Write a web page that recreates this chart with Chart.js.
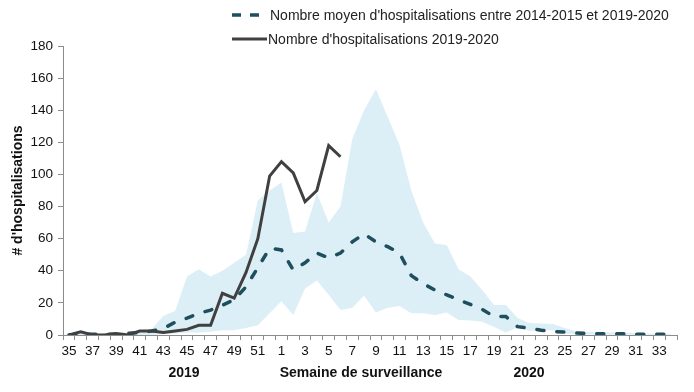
<!DOCTYPE html>
<html>
<head>
<meta charset="utf-8">
<script src="https://cdn.jsdelivr.net/npm/chart.js@4.4.0/dist/chart.umd.min.js"></script>
<style>
html,body{margin:0;padding:0;background:#fff;}
#wrap{position:relative;width:694px;height:392px;overflow:hidden;}
#c{position:absolute;left:0;top:0;}
#legend{position:absolute;left:232px;top:3px;font:14px "Liberation Sans",Arial,sans-serif;color:#222;}
.item{display:flex;align-items:center;height:24px;white-space:nowrap;}
.item svg{flex:none;}
</style>
</head>
<body>
<div id="wrap">
<canvas id="c" width="694" height="392"></canvas>
<div id="legend">
  <div class="item"><svg width="38" height="6"><line x1="0" y1="3" x2="30" y2="3" stroke="#1F4E5E" stroke-width="3.5" stroke-dasharray="9,9"/></svg><span>Nombre moyen d'hospitalisations entre 2014-2015 et 2019-2020</span></div>
  <div class="item"><svg width="36" height="6"><line x1="0" y1="3" x2="35" y2="3" stroke="#404040" stroke-width="3"/></svg><span>Nombre d'hospitalisations 2019-2020</span></div>
</div>
</div>
<script>
// Weeks of surveillance (2019: 35-52, 2020: 1-34)
const weeks = ['35','36','37','38','39','40','41','42','43','44','45','46','47','48','49','50','51','52',
  '1','2','3','4','5','6','7','8','9','10','11','12','13','14','15','16','17','18','19','20',
  '21','22','23','24','25','26','27','28','29','30','31','32','33','34'];

// Hospitalisations 2019-2020 (data up to week 6)
const hosp2019 = [0,2,0,0,1,0,2.5,2.5,1.5,2.5,3.5,6,6,26,23,39,60,99,
  108,101,83,90,118,111,
  null,null,null,null,null,null,null,null,null,null,null,null,null,null,
  null,null,null,null,null,null,null,null,null,null,null,null,null,null];

// Mean hospitalisations 2014-2015 to 2019-2020
const meanHosp = [0,0.5,0.5,0.5,0.5,1,1.5,2.5,4,8,10.5,13.5,15.5,18.5,22,30,42,54,
  53,40.5,45,51,48,51,58,63,58,55,51,37,32,28,25,22,19,16,11.5,11.5,
  5.2,4.2,3,2.2,1.8,1.2,0.9,0.8,0.8,0.7,0.5,0.5,0.5,0.5];

// Min / max band
const minHosp = [0,0,0,0,0,0,0,0,0.5,1,1.5,1.5,2,3,3,4.4,6,13.5,
  21,12.5,29,34,25,15.5,17,24.5,14,17,18,13.5,13.5,12.5,14,9.4,9,8.3,5,1.5,
  4.7,2.5,3,3,1,0.5,0.3,0.3,0.2,0.2,0.2,0.2,0.2,0.2];
const maxHosp = [0.5,1,1,1,1.5,1.5,2,3.5,12,15,36.5,41,36.5,40,45,50,84,90,
  95,63.5,64.5,88.5,70,80,122,140,153,136,118.5,90,70,57,56,41,36.5,28,18.7,18.7,
  10.6,7.5,7.2,6.9,4.4,2.2,2,2,1.5,1.5,1.2,1,1,0.8];

// Y ticks
const yTicks = [0,20,40,60,80,100,120,140,160,180];

const FONT = '"Liberation Sans", Arial, sans-serif';
const AXIS = '#8c8c8c';

const bottomText = {
  id: 'bottomText',
  afterDraw(chart) {
    const ctx = chart.ctx;
    ctx.save();
    ctx.fillStyle = '#111';
    ctx.font = 'bold 14px ' + FONT;
    ctx.textAlign = 'center';
    ctx.textBaseline = 'middle';
    ctx.fillText('2019', 184, 373);
    ctx.fillText('Semaine de surveillance', 361, 373);
    ctx.fillText('2020', 529, 373);
    ctx.restore();
  }
};

new Chart(document.getElementById('c'), {
  type: 'line',
  data: {
    labels: weeks,
    datasets: [
      { label: 'min', data: minHosp, borderWidth: 0, borderColor: 'rgba(0,0,0,0)', pointRadius: 0, fill: false, order: 4 },
      { label: 'max', data: maxHosp, borderWidth: 0, borderColor: 'rgba(0,0,0,0)', pointRadius: 0,
        fill: '-1', backgroundColor: '#DDEFF6', order: 3 },
      { label: "Nombre moyen d'hospitalisations entre 2014-2015 et 2019-2020", data: meanHosp,
        borderColor: '#1F4E5E', borderWidth: 3.5, borderDash: [7, 13], borderCapStyle: 'round',
        pointRadius: 0, fill: false, order: 2 },
      { label: "Nombre d'hospitalisations 2019-2020", data: hosp2019,
        borderColor: '#404040', borderWidth: 3, pointRadius: 0, fill: false, order: 1, spanGaps: false }
    ]
  },
  options: {
    responsive: false,
    animation: false,
    events: [],
    elements: { line: { tension: 0 } },
    layout: { padding: { top: 46, right: 17, left: 0, bottom: 0 } },
    plugins: { legend: { display: false }, tooltip: { enabled: false } },
    scales: {
      x: {
        type: 'category',
        offset: true,
        grid: { display: true, drawOnChartArea: false, drawTicks: true, tickLength: 5, offset: true, color: AXIS },
        border: { display: true, color: AXIS, width: 1 },
        ticks: {
          autoSkip: false, maxRotation: 0, minRotation: 0, padding: 3,
          color: '#111', font: { family: FONT, size: 13.5 },
          callback: function(v, i) { return i % 2 === 0 ? this.getLabelForValue(v) : ''; }
        },
        afterFit: (s) => { s.height = 57; }
      },
      y: {
        min: 0, max: 180,
        afterBuildTicks: (s) => { s.ticks = yTicks.map(v => ({ value: v })); },
        grid: { display: true, drawOnChartArea: false, drawTicks: true, tickLength: 5, color: AXIS },
        border: { display: true, color: AXIS, width: 1 },
        ticks: { padding: 5, color: '#111', font: { family: FONT, size: 13.5 } },
        title: { display: true, text: "# d'hospitalisations", color: '#111',
                 font: { family: FONT, size: 14, weight: 'bold' }, padding: { top: 10, bottom: 0 } },
        afterFit: (s) => { s.width = 63; }
      }
    }
  },
  plugins: [bottomText]
});
</script>
</body>
</html>
